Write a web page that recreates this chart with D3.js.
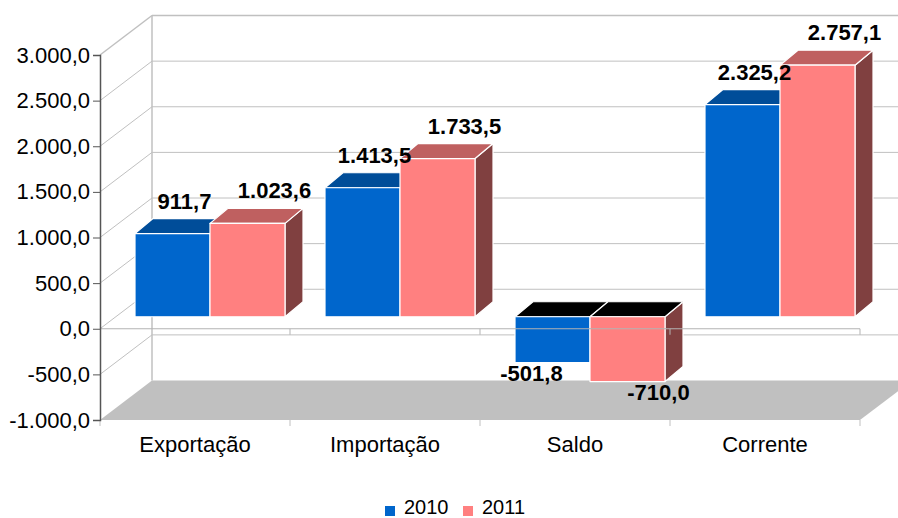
<!DOCTYPE html>
<html>
<head>
<meta charset="utf-8">
<script src="https://cdn.jsdelivr.net/npm/d3@7"></script>
<style>
  body { margin: 0; background: #fff; }
  svg { display: block; font-family: "Liberation Sans", Arial, sans-serif; }
</style>
</head>
<body>
<div id="chart"></div>
<script>
// data
const categories = ['Exportação', 'Importação', 'Saldo', 'Corrente'];
const seriesNames = ['2010', '2011'];
const values2010 = [911.7, 1413.5, -501.8, 2325.2];
const values2011 = [1023.6, 1733.5, -710.0, 2757.1];
const yTicks = [-1000, -500, 0, 500, 1000, 1500, 2000, 2500, 3000];

const width = 898, height = 518;

// colours per series: front, top, side
const frontColor = ['#0066cc', '#ff8080'];
const topColor = ['#004d99', '#bf6060'];
const sideColor = ['#003366', '#804040'];

const loc = d3.formatLocale({ decimal: ',', thousands: '.', grouping: [3], currency: ['R$', ''], minus: '-' });
const fmt = loc.format(',.1f');

const svg = d3.select('#chart').append('svg')
  .attr('width', width)
  .attr('height', height);

// scales
const y = d3.scaleLinear().domain([-1000, 3000]).range([420, 55]);
const x = d3.scaleBand().domain(categories).range([100, 860]);
const xs = d3.scaleBand().domain(seriesNames).range([35, 185]);

// 3d offsets
const wallDx = 52, wallDy = -39.5;   // front plane -> back wall
const barDy = -12;                    // front plane -> bar front face
const depthDx = 18, depthDy = -15;    // bar depth

const grid = '#c0c0c0';
const left = x.range()[0], right = x.range()[1];

// back wall gridlines
svg.append('g')
  .selectAll('line')
  .data(yTicks.filter(t => t > -1000))
  .join('line')
  .attr('x1', left + wallDx).attr('x2', right + wallDx)
  .attr('y1', d => y(d) + wallDy).attr('y2', d => y(d) + wallDy)
  .attr('stroke', grid).attr('stroke-width', d => d === 3000 ? 1.5 : 1);

// side wall diagonals
svg.append('g')
  .selectAll('line')
  .data(yTicks.filter(t => t > -1000))
  .join('line')
  .attr('x1', left).attr('y1', d => y(d))
  .attr('x2', left + wallDx).attr('y2', d => y(d) + wallDy)
  .attr('stroke', grid).attr('stroke-width', d => d === 3000 ? 1.5 : 1);

// back wall left edge
svg.append('line')
  .attr('x1', left + wallDx).attr('x2', left + wallDx)
  .attr('y1', y(3000) + wallDy).attr('y2', y(-1000) + wallDy)
  .attr('stroke', grid).attr('stroke-width', 1.5);

// floor
const fy = y(-1000);
svg.append('polygon')
  .attr('points', [[left, fy], [right, fy], [right + wallDx, fy + wallDy], [left + wallDx, fy + wallDy]].join(' '))
  .attr('fill', '#c0c0c0');

// bars
const rows = categories.map((c, i) => [values2010[i], values2011[i]]);
const bars = [];
rows.forEach((vals, i) => {
  vals.forEach((v, s) => bars.push({ cat: categories[i], s, v }));
});

const barW = xs.bandwidth();
const gBars = svg.append('g');
bars.forEach(d => {
  const x0 = x(d.cat) + xs(seriesNames[d.s]);
  const x1 = x0 + barW;
  const yTop = y(Math.max(d.v, 0)) + barDy;
  const yBot = y(Math.min(d.v, 0)) + barDy;
  const g = gBars.append('g')
    .attr('stroke', '#fff').attr('stroke-width', 1.2).attr('stroke-linejoin', 'round');

  g.append('polygon')
    .attr('points', [[x1, yTop], [x1 + depthDx, yTop + depthDy], [x1 + depthDx, yBot + depthDy], [x1, yBot]].join(' '))
    .attr('fill', sideColor[d.s]);
  g.append('polygon')
    .attr('points', [[x0, yTop], [x1, yTop], [x1 + depthDx, yTop + depthDy], [x0 + depthDx, yTop + depthDy]].join(' '))
    .attr('fill', d.v < 0 ? '#000' : topColor[d.s]);
  g.append('rect')
    .attr('x', x0).attr('y', yTop)
    .attr('width', barW).attr('height', yBot - yTop)
    .attr('fill', frontColor[d.s]);

  d.x0 = x0; d.yTop = yTop; d.yBot = yBot;
});

// x axis line at zero on the front plane
svg.append('line')
  .attr('x1', left).attr('x2', right)
  .attr('y1', y(0)).attr('y2', y(0))
  .attr('stroke', '#b3b3b3');
svg.append('g')
  .selectAll('line')
  .data(d3.range(1, categories.length + 1))
  .join('line')
  .attr('x1', i => left + i * x.bandwidth())
  .attr('x2', i => left + i * x.bandwidth())
  .attr('y1', y(0)).attr('y2', y(0) + 6)
  .attr('stroke', '#b3b3b3');

// category ticks below the floor
svg.append('g')
  .selectAll('line')
  .data(d3.range(categories.length + 1))
  .join('line')
  .attr('x1', i => left + i * x.bandwidth())
  .attr('x2', i => left + i * x.bandwidth())
  .attr('y1', fy).attr('y2', fy + 6)
  .attr('stroke', '#c0c0c0');

// category labels
svg.append('g')
  .selectAll('text')
  .data(categories)
  .join('text')
  .attr('x', d => x(d) + x.bandwidth() / 2)
  .attr('y', 452)
  .attr('text-anchor', 'middle')
  .attr('font-size', 22)
  .attr('fill', '#000')
  .text(d => d);

// y axis
const yAxis = svg.append('g')
  .attr('transform', `translate(${left},0)`)
  .call(d3.axisLeft(y).tickValues(yTicks).tickFormat(fmt).tickSize(7).tickPadding(3));
yAxis.select('.domain').attr('stroke', '#555').attr('stroke-width', 1.5);
yAxis.selectAll('.tick line').attr('stroke', '#555');
yAxis.selectAll('.tick text')
  .attr('font-size', 22)
  .attr('font-family', '"Liberation Sans", Arial, sans-serif')
  .attr('fill', '#000');

// value labels
svg.append('g')
  .selectAll('text')
  .data(bars)
  .join('text')
  .attr('x', d => d.x0 + barW / 2 + (d.v >= 0 ? (d.s === 0 ? 12 : 27) : (d.s === 0 ? -21 : 31)))
  .attr('y', d => d.v >= 0 ? d.yTop - 25 : d.yBot + 18)
  .attr('text-anchor', 'middle')
  .attr('font-size', 22)
  .attr('font-weight', 'bold')
  .attr('fill', '#000')
  .text(d => fmt(d.v));

// legend
const legend = svg.append('g');
const legX = [385, 463];
seriesNames.forEach((name, i) => {
  legend.append('rect')
    .attr('x', legX[i]).attr('y', 506)
    .attr('width', 10).attr('height', 10)
    .attr('fill', frontColor[i]);
  legend.append('text')
    .attr('x', legX[i] + 19).attr('y', 514)
    .attr('font-size', 20)
    .attr('fill', '#000')
    .text(name);
});
</script>
</body>
</html>
